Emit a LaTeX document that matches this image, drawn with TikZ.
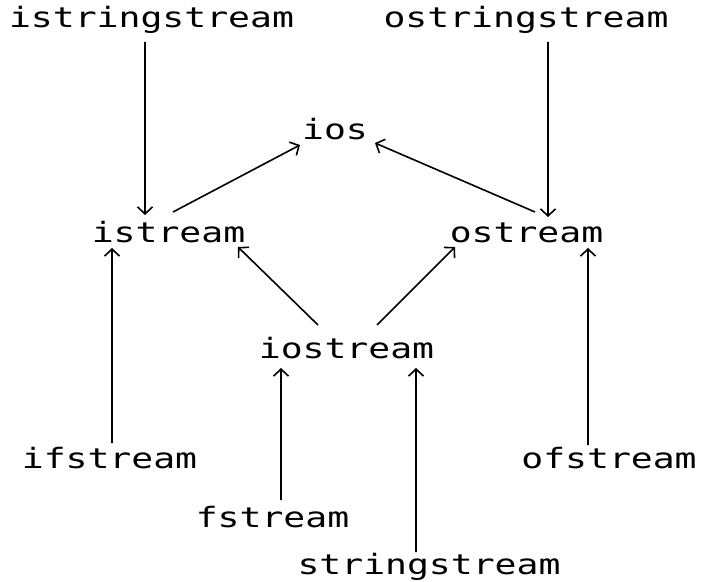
\documentclass[tikz,border=0pt]{standalone}
\usepackage{fontspec}
\usetikzlibrary{arrows.meta}
\newfontfamily\labfont[FakeStretch=1.3]{DejaVu Sans Mono}
\begin{document}
\begin{tikzpicture}[x=1bp,y=-1bp,
  lab/.style={inner sep=0pt,outer sep=0pt,anchor=base,text height=16bp,text depth=4bp,
    font=\labfont\fontsize{28bp}{30bp}\selectfont},
  arr/.style={line width=1.6bp,-{Straight Barb[length=7bp,width=15bp,line width=1.6bp]}}]
\useasboundingbox[fill=white] (0,0) rectangle (701,582);
\node[lab] (istringstream) at (151.5,28) {istringstream};
\node[lab] (ostringstream) at (526,28) {ostringstream};
\node[lab] (ios) at (335,140) {ios};
\node[lab] (istream) at (168.5,242) {istream};
\node[lab] (ostream) at (526.5,242) {ostream};
\node[lab] (iostream) at (346.5,358) {iostream};
\node[lab] (ifstream) at (109.5,468) {ifstream};
\node[lab] (ofstream) at (609,468) {ofstream};
\node[lab] (fstream) at (272.5,527) {fstream};
\node[lab] (stringstream) at (429,574) {stringstream};
\draw[arr] ([xshift=-6.5bp,yshift=-10bp]istringstream.south) -- ([xshift=-23.5bp,yshift=11bp]istream.north);
\draw[arr] ([xshift=22bp,yshift=-10bp]ostringstream.south) -- ([xshift=21.5bp,yshift=9bp]ostream.north);
\draw[arr] ([xshift=4.5bp,yshift=14bp]istream.north) -- ([xshift=-35bp,yshift=-1bp]ios.south);
\draw[arr] ([xshift=8.5bp,yshift=14bp]ostream.north) -- ([xshift=40bp,yshift=1bp]ios.south);
\draw[arr] ([xshift=-28.5bp,yshift=17bp]iostream.north) -- ([xshift=69.5bp,yshift=-1bp]istream.south);
\draw[arr] ([xshift=30.5bp,yshift=17bp]iostream.north) -- ([xshift=-71.5bp,yshift=-1bp]ostream.south);
\draw[arr] ([xshift=2.5bp,yshift=9bp]ifstream.north) -- ([xshift=-56.5bp,yshift=-2bp]istream.south);
\draw[arr] ([xshift=-21bp,yshift=7bp]ofstream.north) -- ([xshift=61.5bp,yshift=-2bp]ostream.south);
\draw[arr] ([xshift=8.5bp,yshift=11bp]fstream.north) -- ([xshift=-65.5bp,yshift=-6bp]iostream.south);
\draw[arr] ([xshift=-13bp,yshift=6bp]stringstream.north) -- ([xshift=69.5bp,yshift=-6bp]iostream.south);
\end{tikzpicture}
\end{document}
